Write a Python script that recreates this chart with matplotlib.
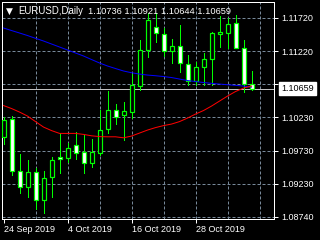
import matplotlib
matplotlib.use('Agg')
import matplotlib.pyplot as plt
import matplotlib.transforms as mtransforms
import numpy as np

# ======================
# Data (EURUSD daily)
# ======================
opens = [1.0993, 1.1020, 1.0942, 1.0918, 1.0941, 1.0899, 1.0933, 1.0963,
         1.0962, 1.0981, 1.0971, 1.0954, 1.0969, 1.1005, 1.1034, 1.1026,
         1.1031, 1.1070, 1.1124, 1.1158, 1.1148, 1.1122, 1.1130, 1.1103,
         1.1077, 1.1098, 1.1110, 1.1148, 1.1149, 1.1165, 1.1127, 1.10736]
highs = [1.1023, 1.1025, 1.0968, 1.0959, 1.0947, 1.0942, 1.0963, 1.0999,
         1.0984, 1.1001, 1.0996, 1.0990, 1.1034, 1.1062, 1.1043, 1.1046,
         1.1088, 1.1139, 1.1180, 1.1180, 1.1157, 1.1140, 1.1161, 1.1116,
         1.1106, 1.1119, 1.1151, 1.1175, 1.1172, 1.1177, 1.1139, 1.10921]
lows = [1.0983, 1.0937, 1.0909, 1.0903, 1.0885, 1.0879, 1.0903, 1.0939,
        1.0956, 1.0960, 1.0939, 1.0948, 1.0966, 1.0999, 1.1013, 1.0989,
        1.1022, 1.1064, 1.1113, 1.1136, 1.1115, 1.1104, 1.1091, 1.1071,
        1.1071, 1.1071, 1.1072, 1.1128, 1.1127, 1.1127, 1.1061, 1.10644]
closes = [1.1019, 1.0942, 1.0918, 1.0941, 1.0899, 1.0932, 1.0959, 1.0960,
          1.0977, 1.0969, 1.0954, 1.0971, 1.1004, 1.1034, 1.1023, 1.1032,
          1.1071, 1.1124, 1.1169, 1.1149, 1.1122, 1.1130, 1.1104, 1.1077,
          1.1098, 1.1110, 1.1149, 1.1151, 1.1163, 1.1127, 1.1073, 1.10659]

# moving averages (blue = slow, red = fast)
ma_blue = [1.11570, 1.11532, 1.11495, 1.11457, 1.11415, 1.11375, 1.11330, 1.11285,
           1.11240, 1.11195, 1.11150, 1.11097, 1.11045, 1.11000, 1.10962, 1.10925,
           1.10899, 1.10879, 1.10864, 1.10854, 1.10842, 1.10827, 1.10804, 1.10782,
           1.10767, 1.10752, 1.10740, 1.10729, 1.10719, 1.10710, 1.10699, 1.10684]
ma_red = [1.10407, 1.10362, 1.10309, 1.10249, 1.10166, 1.10084, 1.10031, 1.09989,
          1.09989, 1.09989, 1.09974, 1.09953, 1.09941, 1.09938, 1.09938, 1.09923,
          1.09949, 1.09994, 1.10039, 1.10076, 1.10106, 1.10129, 1.10166, 1.10219,
          1.10279, 1.10332, 1.10399, 1.10474, 1.10549, 1.10617, 1.10669, 1.10699]

date_labels = ['24 Sep 2019', '4 Oct 2019', '16 Oct 2019', '28 Oct 2019']
date_label_bars = [0, 8, 16, 24]
price_ticks = [1.11720, 1.11220, 1.10730, 1.10230, 1.09730, 1.09230, 1.08740]
price_tick_labels = ['1.11720', '1.11220', '1.10730', '1.10230', '1.09730', '1.09230', '1.08740']

symbol = 'EURUSD,Daily'

# ======================
# Figure setup
# ======================
plt.rcParams['font.family'] = ['Liberation Sans', 'DejaVu Sans']
px = 0.72  # one pixel in points at dpi 100
fsize = 6.5
green = '#00FF00'
gridc = '#778899'

fig = plt.figure(figsize=(3.2, 2.4), dpi=100, facecolor='black')
ax = fig.add_axes([2 / 320, 21 / 240, 272 / 320, 217 / 240])
ax.set_facecolor('black')

n = len(opens)
x = np.arange(n)
o = np.array(opens)
c = np.array(closes)

ax.set_xlim(-0.19, 33.81)
ax.set_ylim(1.08705, 1.11960)

# grid
for yv in price_ticks:
    ax.axhline(yv, color=gridc, lw=px, ls=(0, (3, 2)), zorder=1)
for xv in range(4, 33, 4):
    ax.axvline(xv, color=gridc, lw=px, ls=(0, (3, 2)), zorder=1)

# bid line
ax.axhline(closes[-1], color='#C0C0C0', lw=px, zorder=1.5)

# candles
ax.vlines(x, lows, highs, color=green, lw=px, zorder=2, antialiased=False)
fills = ['black' if cc >= oo else 'white' for oo, cc in zip(opens, closes)]
ax.bar(x, np.abs(c - o), bottom=np.minimum(o, c), width=0.5, color=fills,
       edgecolor=green, linewidth=px * 1.2, zorder=3)

# moving averages
ax.plot(x, ma_blue, color='#0000FF', lw=px, zorder=4)
ax.plot(x, ma_red, color='#FF0000', lw=px, zorder=4)

# axes styling
for s in ax.spines.values():
    s.set_color('white')
    s.set_linewidth(px)
ax.yaxis.tick_right()
ax.set_yticks(price_ticks)
ax.set_yticklabels(price_tick_labels)
ax.set_xticks(date_label_bars)
ax.set_xticklabels(date_labels, ha='left')
ax.tick_params(axis='both', colors='white', labelcolor='white', labelsize=fsize,
               length=3, width=px)
ax.tick_params(axis='y', pad=2.2)
ax.tick_params(axis='x', pad=1.5)
for lbl in ax.get_xticklabels():
    lbl.set_x(lbl.get_position()[0])

# current price label
trans = mtransforms.blended_transform_factory(ax.transAxes, ax.transData)
ax.text((281 - 2) / 272, closes[-1], f'{closes[-1]:.5f}', transform=trans,
        color='black', fontsize=fsize, va='center', ha='left', clip_on=False, zorder=10,
        bbox=dict(facecolor='white', edgecolor='white', boxstyle='square,pad=0.25'))

# header
fig.text(6 / 320, 1 - 11 / 240, '\u25bc', color='white', fontsize=6.5,
         va='center', ha='left', family=['DejaVu Sans'])
fig.text(18 / 320, 1 - 11 / 240, symbol, color='white', fontsize=6.9,
         va='center', ha='left')
fig.text(88 / 320, 1 - 11 / 240,
         ' '.join(f'{v:.5f}' for v in [opens[-1], highs[-1], lows[-1], closes[-1]]),
         color='white', fontsize=6.7, va='center', ha='left')

fig.savefig('out.png', dpi=100, facecolor='black')
